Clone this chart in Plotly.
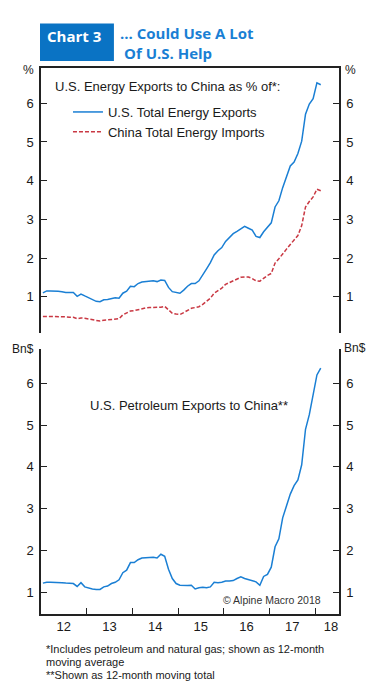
import plotly.graph_objects as go

# Monthly observations, Jan 2012 .. Feb 2018 (plotted mid-month)
start_year = 2012
n_months = 74
months = [start_year + (i + 0.5) / 12 for i in range(n_months)]

us_total_energy_exports = [
    1.10, 1.15, 1.15, 1.15, 1.14, 1.13, 1.11, 1.11, 1.11, 1.01, 1.07, 1.02,
    0.97, 0.92, 0.88, 0.87, 0.92, 0.93, 0.95, 0.97, 0.96, 1.09, 1.14, 1.27,
    1.26, 1.34, 1.38, 1.39, 1.41, 1.41, 1.39, 1.43, 1.42, 1.24, 1.13, 1.10,
    1.09, 1.17, 1.27, 1.34, 1.34, 1.41, 1.55, 1.72, 1.88, 2.08, 2.19, 2.27,
    2.43, 2.52, 2.63, 2.69, 2.76, 2.82, 2.77, 2.72, 2.56, 2.53, 2.68, 2.80,
    2.91, 3.32, 3.48, 3.82, 4.13, 4.38, 4.48, 4.70, 5.02, 5.72, 5.98, 6.12,
    6.53, 6.48,
]

china_total_energy_imports = [
    0.49, 0.49, 0.49, 0.48, 0.48, 0.48, 0.48, 0.47, 0.47, 0.43, 0.45, 0.44,
    0.42, 0.40, 0.38, 0.37, 0.39, 0.40, 0.41, 0.42, 0.43, 0.53, 0.58, 0.63,
    0.64, 0.67, 0.70, 0.71, 0.72, 0.72, 0.72, 0.73, 0.75, 0.65, 0.57, 0.55,
    0.54, 0.59, 0.64, 0.70, 0.72, 0.74, 0.80, 0.88, 0.96, 1.09, 1.16, 1.22,
    1.32, 1.36, 1.41, 1.45, 1.50, 1.51, 1.51, 1.47, 1.41, 1.40, 1.48, 1.55,
    1.60, 1.87, 1.98, 2.12, 2.23, 2.35, 2.46, 2.58, 2.84, 3.32, 3.46, 3.58,
    3.78, 3.74,
]

us_petroleum_exports = [
    1.22, 1.24, 1.24, 1.24, 1.23, 1.23, 1.22, 1.22, 1.21, 1.14, 1.23, 1.13,
    1.10, 1.08, 1.07, 1.07, 1.13, 1.15, 1.21, 1.24, 1.30, 1.47, 1.53, 1.71,
    1.71, 1.78, 1.82, 1.83, 1.84, 1.84, 1.82, 1.91, 1.86, 1.55, 1.33, 1.21,
    1.17, 1.16, 1.16, 1.17, 1.08, 1.11, 1.12, 1.11, 1.13, 1.24, 1.23, 1.24,
    1.27, 1.27, 1.28, 1.33, 1.37, 1.33, 1.30, 1.27, 1.25, 1.17, 1.38, 1.43,
    1.60, 2.09, 2.28, 2.78, 3.05, 3.35, 3.55, 3.69, 4.05, 4.90, 5.25, 5.70,
    6.20, 6.36,
]

year_ticks = [2013, 2014, 2015, 2016, 2017, 2018]
year_label_pos = [2012.5, 2013.5, 2014.5, 2015.5, 2016.5, 2017.5, 2018.35]
year_labels = ["12", "13", "14", "15", "16", "17", "18"]
y_ticks = [1, 2, 3, 4, 5, 6]

BLUE = "#1a7fd4"
RED = "#c93843"
BOX = "#0a73c4"
TXT = "#1a1a1a"
FONT = "Liberation Sans, Arial, sans-serif"

# page has an 8px body margin; figure is placed at (8, 8)
OFF = 8
W, H = 384 - OFF, 697 - 2 * OFF
PLOT_L, PLOT_R, PLOT_T, PLOT_B = 41, 339.3, 68, 614   # page coordinates
ML = PLOT_L - OFF
MR = W - (PLOT_R - OFF)
MT = PLOT_T - OFF
MB = H - (PLOT_B - OFF)
PW = W - ML - MR
PH = H - MT - MB


def px(x):
    return (x - PLOT_L) / PW


def py(y):
    return 1 - (y - PLOT_T) / PH


fig = go.Figure()

# top panel
fig.add_trace(go.Scatter(x=months, y=us_total_energy_exports, xaxis="x2", yaxis="y2",
                         mode="lines", line=dict(color=BLUE, width=1.5),
                         name="U.S. Total Energy Exports"))
fig.add_trace(go.Scatter(x=months, y=china_total_energy_imports, xaxis="x2", yaxis="y2",
                         mode="lines", line=dict(color=RED, width=1.5, dash="4px,2px"),
                         name="China Total Energy Imports"))
fig.add_trace(go.Scatter(x=months, y=us_total_energy_exports, xaxis="x2", yaxis="y3",
                         mode="lines", opacity=0, showlegend=False, hoverinfo="skip"))
# bottom panel
fig.add_trace(go.Scatter(x=months, y=us_petroleum_exports, xaxis="x", yaxis="y",
                         mode="lines", line=dict(color=BLUE, width=1.5), showlegend=False))
fig.add_trace(go.Scatter(x=months, y=us_petroleum_exports, xaxis="x", yaxis="y4",
                         mode="lines", opacity=0, showlegend=False, hoverinfo="skip"))

top_dom = [py(332.7), 1.0]
bot_dom = [0.0, py(349.3)]
xr = [2012.0, 2018.525]

yax_common = dict(tickmode="array", tickvals=y_ticks, ticks="inside", ticklen=6,
                  tickcolor="#222", showline=True, linecolor="#222", linewidth=1.5,
                  showgrid=False, zeroline=False, tickfont=dict(family=FONT, size=13, color=TXT),
                  fixedrange=True, ticklabelstandoff=3)

fig.update_layout(
    width=W, height=H,
    margin=dict(l=ML, r=MR, t=MT, b=MB, pad=0),
    paper_bgcolor="white", plot_bgcolor="white",
    font=dict(family=FONT, color=TXT),
    xaxis=dict(domain=[0, 1], range=xr, anchor="y", showline=True, linecolor="#222",
               linewidth=1.5, showgrid=False, zeroline=False,
               tickmode="array", tickvals=year_label_pos, ticktext=year_labels, ticks="",
               tickfont=dict(family=FONT, size=13, color=TXT),
               minor=dict(tickmode="array", tickvals=year_ticks, ticks="inside", ticklen=6,
                          tickcolor="#222", showgrid=False)),
    xaxis2=dict(domain=[0, 1], range=xr, anchor="y2", side="top", showline=True,
                linecolor="#222", linewidth=1.5, showgrid=False, zeroline=False,
                showticklabels=False, ticks=""),
    yaxis=dict(domain=bot_dom, range=[0.481, 6.813], anchor="x", side="left", **yax_common),
    yaxis4=dict(range=[0.481, 6.813], overlaying="y", anchor="x", side="right", **yax_common),
    yaxis2=dict(domain=top_dom, range=[0.069, 6.913], anchor="x2", side="left", **yax_common),
    yaxis3=dict(range=[0.069, 6.913], overlaying="y2", anchor="x2", side="right", **yax_common),
    legend=dict(x=px(68), y=py(97), xanchor="left", yanchor="top",
                font=dict(family=FONT, size=13, color=TXT), bgcolor="rgba(0,0,0,0)",
                tracegroupgap=0),
    showlegend=True,
)

fig.add_shape(type="rect", xref="paper", yref="paper", x0=px(40), x1=px(114),
              y0=py(61), y1=py(23.5), fillcolor=BOX, line=dict(width=0), layer="above")

ann = [
    dict(text="<b>Chart 3</b>", x=px(45), y=py(36), xanchor="left", yanchor="middle",
         font=dict(family="Open Sans", size=15, color="white")),
    dict(text="<b>... Could Use A Lot</b>", x=px(118), y=py(33), xanchor="left", yanchor="middle",
         font=dict(family="Open Sans", size=15, color=BLUE)),
    dict(text="<b>Of U.S. Help</b>", x=px(122), y=py(53), xanchor="left", yanchor="middle",
         font=dict(family="Open Sans", size=15, color=BLUE)),
    dict(text="%", x=px(36), y=py(70), xanchor="right", yanchor="middle",
         font=dict(family=FONT, size=12, color=TXT)),
    dict(text="%", x=px(343), y=py(70), xanchor="left", yanchor="middle",
         font=dict(family=FONT, size=12, color=TXT)),
    dict(text="Bn$", x=px(36), y=py(349), xanchor="right", yanchor="middle",
         font=dict(family=FONT, size=12, color=TXT)),
    dict(text="Bn$", x=px(342), y=py(348), xanchor="left", yanchor="middle",
         font=dict(family=FONT, size=12, color=TXT)),
    dict(text="U.S. Energy Exports to China as % of*:", x=px(53), y=py(86), xanchor="left",
         yanchor="middle", font=dict(family=FONT, size=13, color=TXT)),
    dict(text="U.S. Petroleum Exports to China**", x=px(88), y=py(405), xanchor="left",
         yanchor="middle", font=dict(family=FONT, size=13, color=TXT)),
    dict(text="© Alpine Macro 2018", x=px(323), y=py(600), xanchor="right",
         yanchor="middle", font=dict(family=FONT, size=10.5, color="#333")),
    dict(text="*Includes petroleum and natural gas; shown as 12-month", x=px(44), y=py(649),
         xanchor="left", yanchor="middle", font=dict(family=FONT, size=11, color=TXT)),
    dict(text="moving average", x=px(44), y=py(662),
         xanchor="left", yanchor="middle", font=dict(family=FONT, size=11, color=TXT)),
    dict(text="**Shown as 12-month moving total", x=px(44), y=py(675),
         xanchor="left", yanchor="middle", font=dict(family=FONT, size=11, color=TXT)),
]
for a in ann:
    a.update(xref="paper", yref="paper", showarrow=False)
fig.update_layout(annotations=ann)

fig.write_html("out.html")
